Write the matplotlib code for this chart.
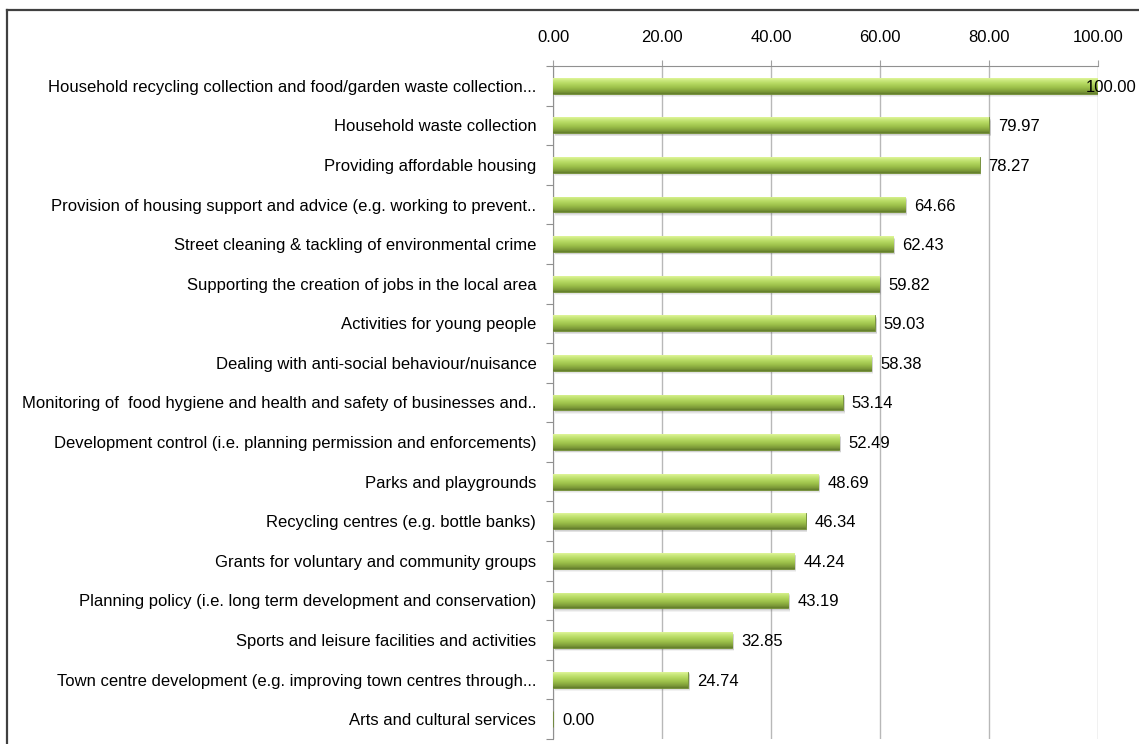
import numpy as np
import matplotlib
matplotlib.use('Agg')
import matplotlib.pyplot as plt
from matplotlib.colors import LinearSegmentedColormap

# Data
services = [
    'Household recycling collection and food/garden waste collection...',
    'Household waste collection',
    'Providing affordable housing',
    'Provision of housing support and advice (e.g. working to prevent..',
    'Street cleaning & tackling of environmental crime',
    'Supporting the creation of jobs in the local area',
    'Activities for young people',
    'Dealing with anti-social behaviour/nuisance',
    'Monitoring of  food hygiene and health and safety of businesses and..',
    'Development control (i.e. planning permission and enforcements)',
    'Parks and playgrounds',
    'Recycling centres (e.g. bottle banks)',
    'Grants for voluntary and community groups',
    'Planning policy (i.e. long term development and conservation)',
    'Sports and leisure facilities and activities',
    'Town centre development (e.g. improving town centres through...',
    'Arts and cultural services',
]
scores = [100.00, 79.97, 78.27, 64.66, 62.43, 59.82, 59.03, 58.38, 53.14,
          52.49, 48.69, 46.34, 44.24, 43.19, 32.85, 24.74, 0.00]
x_ticks = [0, 20, 40, 60, 80, 100]

plt.rcParams['font.family'] = ['Liberation Sans', 'DejaVu Sans']
fs = 12

fig = plt.figure(figsize=(11.39, 7.44), dpi=100)
ax = fig.add_axes([553 / 1139, 1 - 739 / 744, (1098 - 553) / 1139, (739 - 66) / 744])

# border of the chart area (cropped on right/bottom)
fig.add_artist(plt.Line2D([7 / 1139, 7 / 1139], [0, 1 - 10 / 744], color='#404040', lw=1.6,
                          transform=fig.transFigure))
fig.add_artist(plt.Line2D([7 / 1139, 1], [1 - 10 / 744, 1 - 10 / 744], color='#404040', lw=1.6,
                          transform=fig.transFigure))

y = np.arange(len(services))
bar_h = 0.40

green = LinearSegmentedColormap.from_list('bar', [
    (0.0, '#e0f59a'), (0.12, '#cdea80'), (0.35, '#b4d860'),
    (0.6, '#9cc04a'), (0.85, '#7e9c39'), (1.0, '#627c2b')])
grad = np.linspace(0, 1, 64).reshape(-1, 1)

# soft shadow under bars
for off, a in [(0.08, 0.08), (0.06, 0.10), (0.04, 0.14)]:
    ax.barh(y + off, scores, height=bar_h, left=0.35, color='#606060', alpha=a,
            linewidth=0, zorder=2)

bars = ax.barh(y, scores, height=bar_h, color='#a4c84f', edgecolor='#6e8a33',
               linewidth=0.6, zorder=3)
for b in bars:
    if b.get_width() <= 0:
        continue
    x0, y0 = b.get_x(), b.get_y()
    w, h = b.get_width(), b.get_height()
    im = ax.imshow(grad, cmap=green, aspect='auto', origin='upper',
                   extent=(x0, x0 + w, y0 + h, y0), zorder=4, interpolation='bilinear')
    im.set_clip_path(b)

# value labels
for yi, v in zip(y, scores):
    dx = -9 if v >= 98 else 6.5
    ax.annotate(f'{v:.2f}', (v, yi), xytext=(dx, 0), textcoords='offset points',
                ha='left', va='center_baseline', fontsize=fs, color='black', zorder=6,
                annotation_clip=False)

ax.set_xlim(0, 100)
ax.set_ylim(len(services) - 0.5, -0.5)
ax.xaxis.tick_top()
ax.set_xticks(x_ticks)
ax.set_xticklabels([f'{t:.2f}' for t in x_ticks], fontsize=fs)
ax.tick_params(axis='x', length=4, width=0.8, color='#a0a0a0', pad=11)
ax.grid(axis='x', color='#b8b8b8', lw=1.0, zorder=1)

ax.set_yticks(y)
ax.set_yticklabels(services, fontsize=fs)
ax.set_yticks(np.arange(len(services) + 1) - 0.5, minor=True)
ax.tick_params(axis='y', which='major', length=0, pad=12)
ax.tick_params(axis='y', which='minor', length=5, width=0.8, color='#909090')

for s in ['right', 'bottom']:
    ax.spines[s].set_visible(False)
ax.spines['top'].set_color('#909090')
ax.spines['left'].set_color('#909090')

fig.savefig('out.png', dpi=100)
